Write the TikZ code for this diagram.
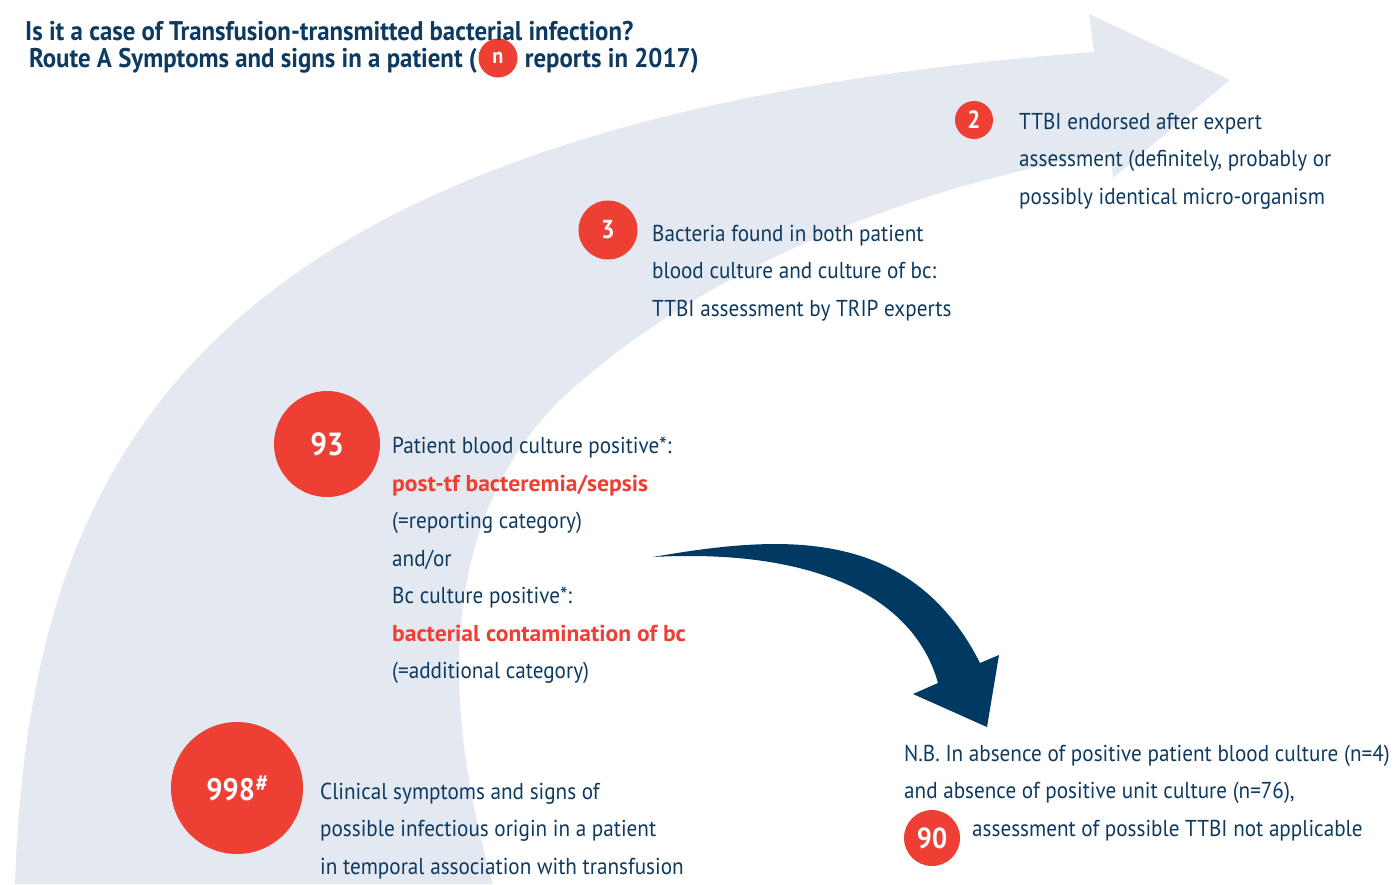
\documentclass[tikz,border=0pt]{standalone}
\usepackage{fontspec}
\setmainfont{PT Sans}[FakeStretch=0.92]
\newfontfamily\widefont{PT Sans}[FakeStretch=1.025]
\usepackage{tikz}
\usetikzlibrary{positioning}

\definecolor{trNavy}{HTML}{003A63}
\definecolor{trRed}{HTML}{EE3F35}
\definecolor{trGrey}{HTML}{E4E8F1}
\definecolor{trText}{HTML}{0D3A61}

\tikzset{
  numcircle/.style={circle, fill=trRed, text=white, inner sep=0pt},
  titletext/.style={text=trText, inner sep=0pt, font=\bfseries\fontsize{27}{31}\selectfont},
  blocktext/.style={anchor=west, align=left, text=trText, inner sep=0pt, font=\fontsize{23}{37.5}\selectfont}
}
\newcommand{\redpart}[1]{\textcolor{trRed}{\widefont\bfseries #1}}

\begin{document}
\begin{tikzpicture}[x=1pt, y=-1pt]
    \useasboundingbox (0,0) rectangle (1397,884);

    % light curved arrow behind everything
    \fill[trGrey] (15,884) .. controls (30,450) and (200,120) .. (1094,52)
        -- (1089,14) -- (1230,80) -- (1113,178) -- (1110,152)
        .. controls (900,190) and (700,270) .. (560,400)
        .. controls (440,520) and (440,700) .. (493,884) -- cycle;

    % dark arrow to the N.B.
    \fill[trNavy] (653,557) .. controls (780,535) and (910,525) .. (980,663)
        -- (999,655) -- (987,727) -- (913,694) -- (938,683)
        .. controls (915,600) and (820,548) .. (653,557) -- cycle;

    % title
    \node (nCircle) [numcircle, minimum width=38pt, minimum height=39pt, font=\bfseries\fontsize{22}{22}\selectfont] at (498,58) {n};
    \node (titleTop) [titletext, anchor=west] at (25,31) {Is it a case of Transfusion-transmitted bacterial infection?};
    \node (titleRoute) [titletext, left=1pt of nCircle, yshift=-3pt] {Route A Symptoms and signs in a patient (};
    \node (titleYear) [titletext, right=7pt of nCircle, yshift=-3pt] {reports in 2017)};

    % numbers
    \node (twoCircle) [numcircle, minimum size=38pt, font=\bfseries\fontsize{25}{25}\selectfont] at (974,120) {2};
    \node (threeCircle) [numcircle, minimum size=59pt, font=\bfseries\fontsize{26}{26}\selectfont] at (608,230) {3};
    \node (ninetythreeCircle) [numcircle, minimum size=106pt, font=\bfseries\fontsize{32}{32}\selectfont] at (327,444) {93};
    \node (totalCircle) [numcircle, minimum size=132pt, font=\bfseries\fontsize{31}{31}\selectfont] at (237,788) {998\textsuperscript{\fontsize{24}{24}\selectfont\itshape\#}};
    \node (ninetyCircle) [numcircle, minimum size=56pt, font=\bfseries\fontsize{29}{29}\selectfont] at (932,838) {90};

    % texts
    \node (twoText) [blocktext] at (1019,161) {TTBI endorsed after expert\\assessment (definitely, probably or\\possibly identical micro-organism};
    \node (threeText) [blocktext] at (652,273) {Bacteria found in both patient\\blood culture and culture of bc:\\TTBI assessment by TRIP experts};
    \node (ninetythreeText) [blocktext] at (392,560.5) {Patient blood culture positive*:\\\redpart{post-tf bacteremia/sepsis}\\(=reporting category)\\and/or\\Bc culture positive*:\\\redpart{bacterial contamination of bc}\\(=additional category)};
    \node (totalText) [blocktext] at (320,831) {Clinical symptoms and signs of\\possible infectious origin in a patient\\in temporal association with transfusion};
    \node (nbText) [blocktext] at (904,774.5) {N.B. In absence of positive patient blood culture (n=4)\\and absence of positive unit culture (n=76),};
    \node (ninetyText) [blocktext] at (972,831) {assessment of possible TTBI not applicable};
\end{tikzpicture}
\end{document}
